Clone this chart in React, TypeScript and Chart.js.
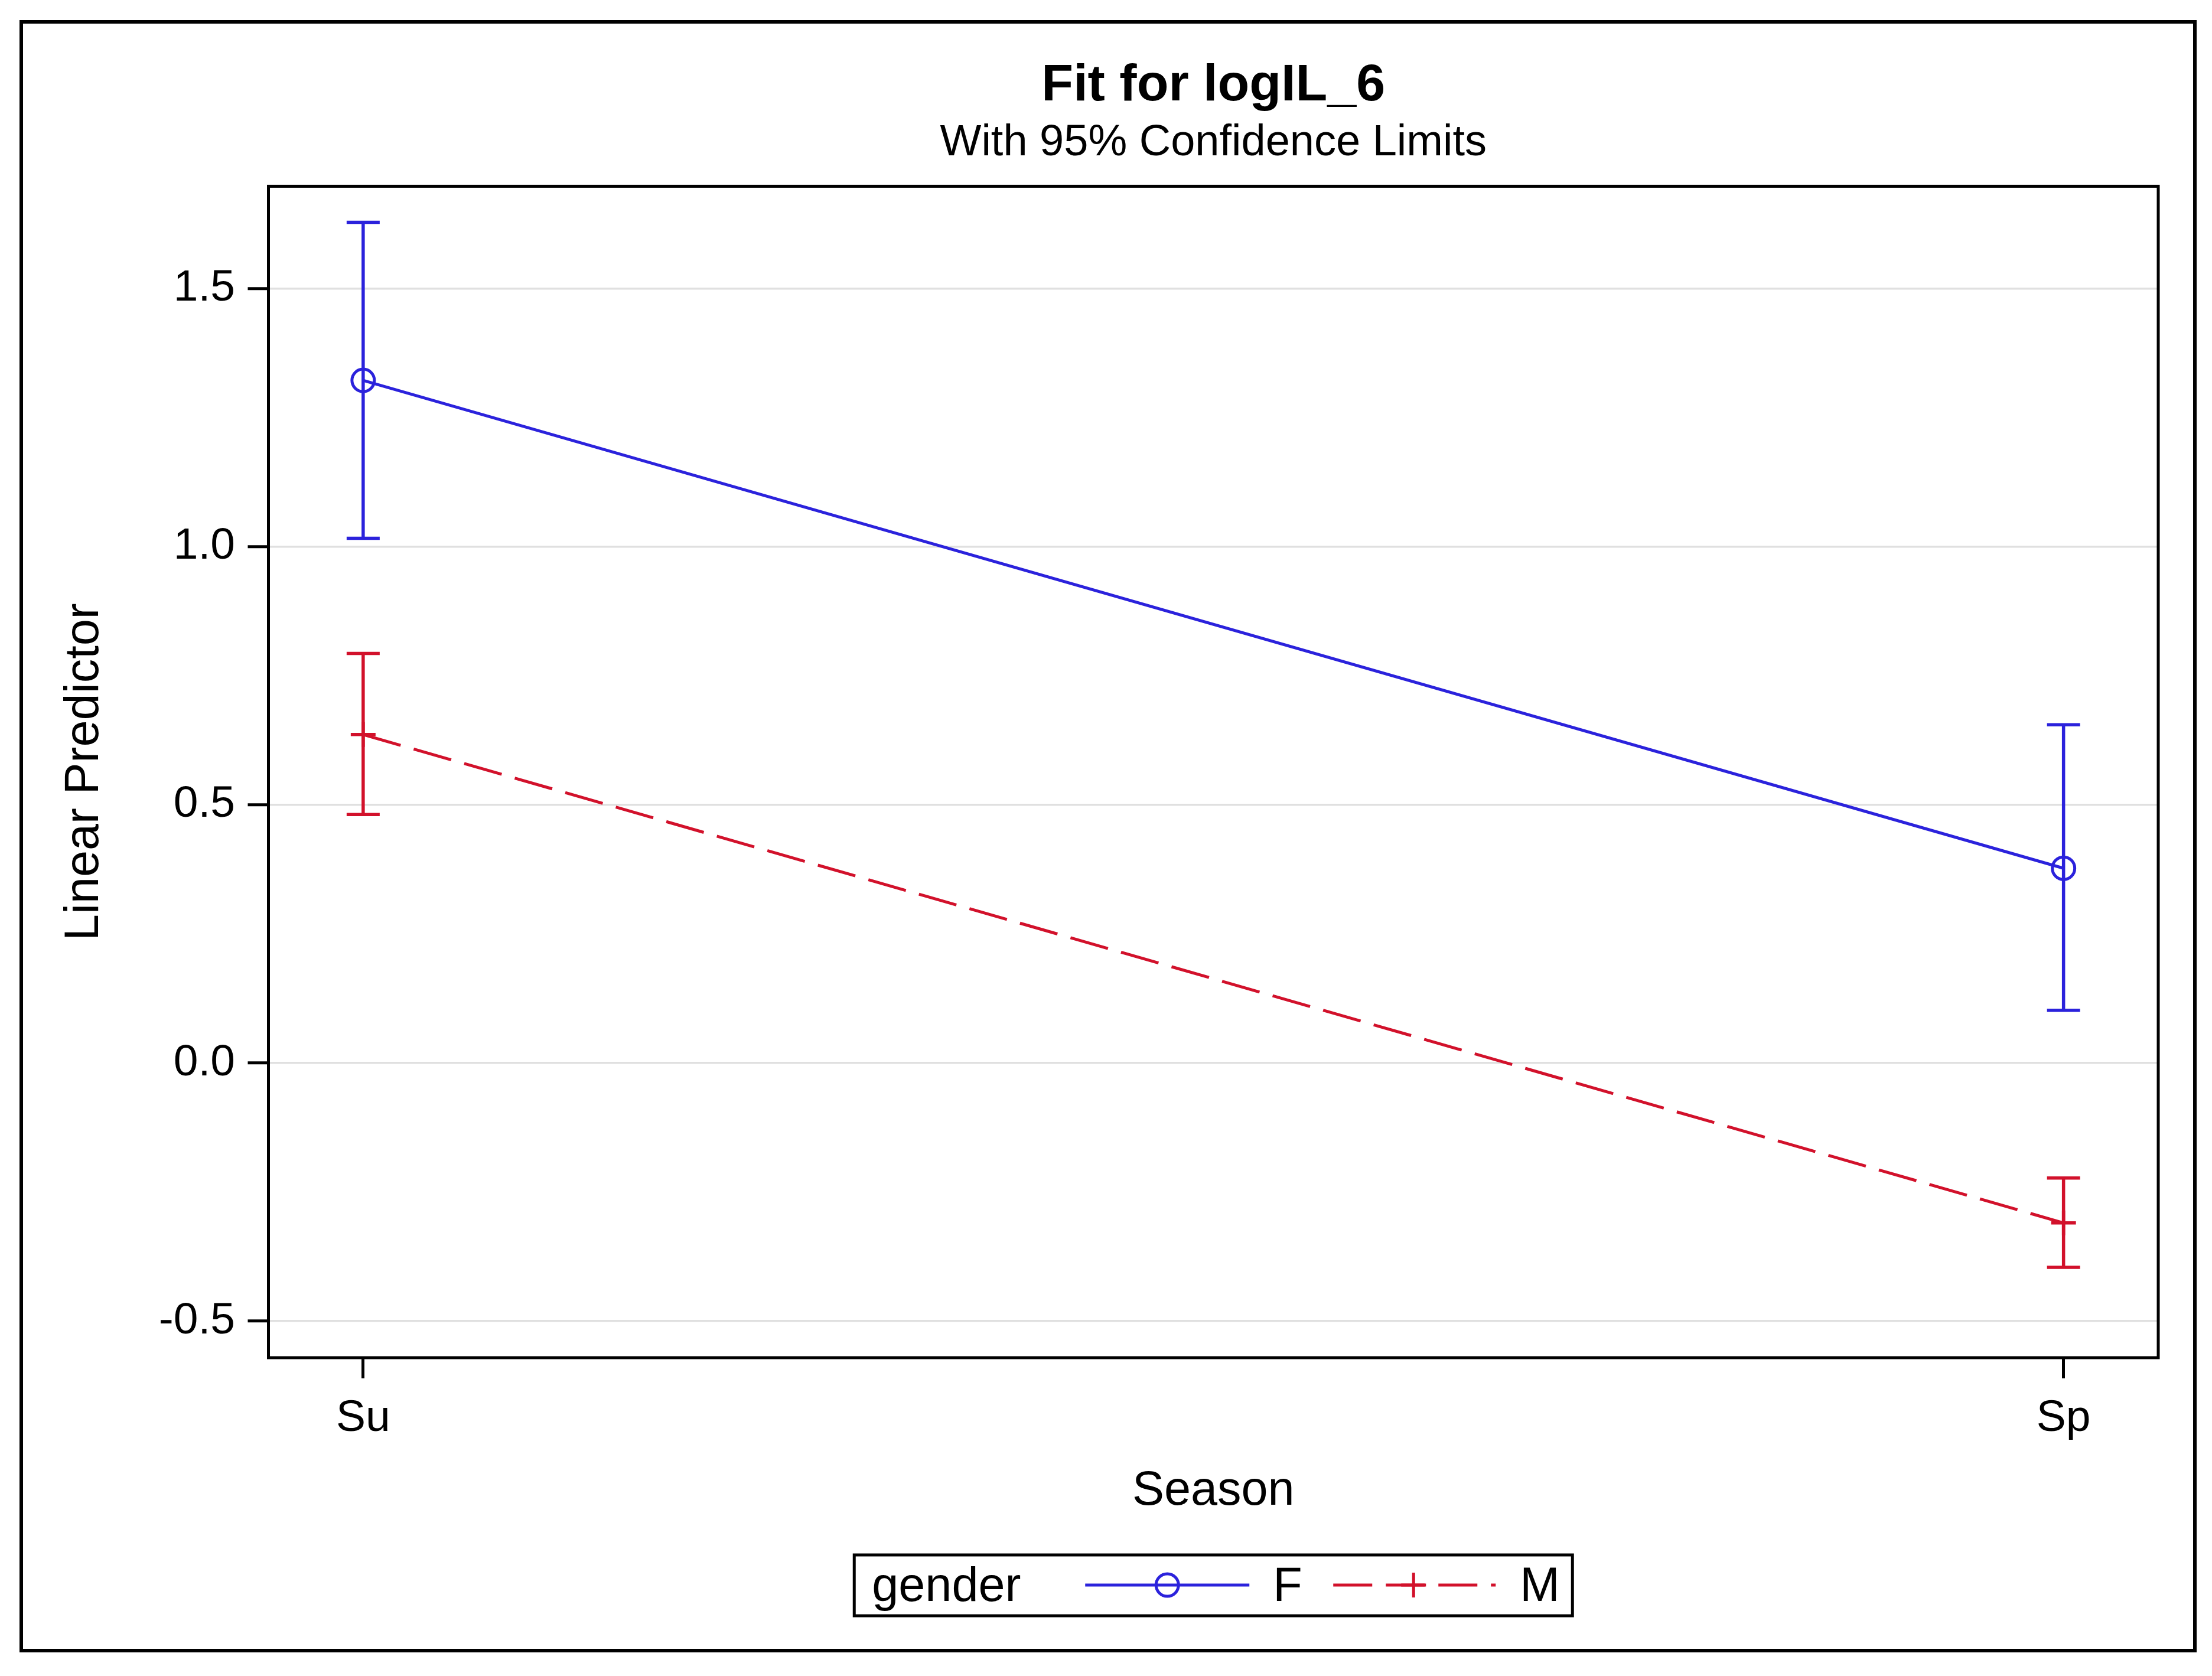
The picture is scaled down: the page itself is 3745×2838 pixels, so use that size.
import React, { useEffect, useRef } from 'react';
import { Chart, registerables } from 'chart.js';

Chart.register(...registerables);

// Season categories placed on a linear axis so the end offsets match the original
const seasons = ['Su', 'Sp'];
const seasonPos = [0, 1];
const yTicks = [-0.5, 0, 0.5, 1.0, 1.5];

// gender = F
const femaleFit = [1.322, 0.377];
const femaleLower = [1.016, 0.102];
const femaleUpper = [1.628, 0.655];

// gender = M
const maleFit = [0.636, -0.31];
const maleLower = [0.481, -0.396];
const maleUpper = [0.793, -0.223];

const BLUE = '#2B22DC';
const RED = '#D2112B';
const FONT = '"Liberation Sans", Arial, Helvetica, sans-serif';
const DASH = [66, 23];

const errorBars = {
  id: 'errorBars',
  afterDatasetsDraw(chart: any) {
    const { ctx, scales } = chart;
    const x = scales.x;
    const y = scales.y;
    const groups = [
      { lo: femaleLower, hi: femaleUpper, color: BLUE },
      { lo: maleLower, hi: maleUpper, color: RED },
    ];
    ctx.save();
    ctx.lineWidth = 5.5;
    ctx.lineCap = 'butt';
    groups.forEach((g) => {
      ctx.strokeStyle = g.color;
      seasonPos.forEach((v, i) => {
        const px = x.getPixelForValue(v);
        const top = y.getPixelForValue(g.hi[i]);
        const bot = y.getPixelForValue(g.lo[i]);
        ctx.beginPath();
        ctx.moveTo(px, top);
        ctx.lineTo(px, bot);
        ctx.moveTo(px - 28, top);
        ctx.lineTo(px + 28, top);
        ctx.moveTo(px - 28, bot);
        ctx.lineTo(px + 28, bot);
        ctx.stroke();
      });
    });
    ctx.restore();
  },
};

const frameAndLegend = {
  id: 'frameAndLegend',
  afterDraw(chart: any) {
    const { ctx, chartArea } = chart;
    ctx.save();
    ctx.strokeStyle = '#000';

    // outer graph border
    ctx.lineWidth = 6;
    ctx.strokeRect(36, 37, 3680, 2758);

    // wall border around the plot area
    ctx.lineWidth = 5;
    ctx.strokeRect(
      chartArea.left,
      chartArea.top,
      chartArea.right - chartArea.left,
      chartArea.bottom - chartArea.top
    );

    // legend
    const cx = (chartArea.left + chartArea.right) / 2;
    const left = cx - 608;
    const top = 2633;
    const lineY = 2684;
    const baseY = 2711;
    ctx.lineWidth = 5;
    ctx.strokeRect(left, top, 1216, 103);

    ctx.fillStyle = '#000';
    ctx.font = `81px ${FONT}`;
    ctx.textBaseline = 'alphabetic';
    ctx.textAlign = 'left';
    ctx.fillText('gender', left + 30, baseY);

    // F sample
    ctx.strokeStyle = BLUE;
    ctx.lineWidth = 5;
    ctx.beginPath();
    ctx.moveTo(left + 391, lineY);
    ctx.lineTo(left + 669, lineY);
    ctx.stroke();
    ctx.beginPath();
    ctx.arc(left + 530, lineY, 19, 0, Math.PI * 2);
    ctx.stroke();
    ctx.fillText('F', left + 709, baseY);

    // M sample
    ctx.strokeStyle = RED;
    ctx.setLineDash(DASH);
    ctx.beginPath();
    ctx.moveTo(left + 811, lineY);
    ctx.lineTo(left + 1086, lineY);
    ctx.stroke();
    ctx.setLineDash([]);
    ctx.lineWidth = 5;
    ctx.beginPath();
    ctx.moveTo(left + 947 - 21, lineY);
    ctx.lineTo(left + 947 + 21, lineY);
    ctx.moveTo(left + 947, lineY - 21);
    ctx.lineTo(left + 947, lineY + 21);
    ctx.stroke();
    ctx.fillText('M', left + 1127, baseY);

    ctx.restore();
  },
};

const App: React.FC = () => {
  const canvasRef = useRef<HTMLCanvasElement>(null);
  const chartRef = useRef<Chart | null>(null);

  useEffect(() => {
    document.body.style.margin = '0';
    document.body.style.overflow = 'hidden';
    if (!canvasRef.current) return;
    if (chartRef.current) chartRef.current.destroy();

    Chart.defaults.font.family = FONT;
    Chart.defaults.color = '#000';

    chartRef.current = new Chart(canvasRef.current, {
      type: 'line',
      data: {
        datasets: [
          {
            label: 'F',
            data: seasonPos.map((x, i) => ({ x, y: femaleFit[i] })),
            borderColor: BLUE,
            backgroundColor: 'rgba(0,0,0,0)',
            borderWidth: 5,
            pointStyle: 'circle',
            pointRadius: 19,
            pointBorderWidth: 5,
            pointBorderColor: BLUE,
            pointBackgroundColor: 'rgba(0,0,0,0)',
            tension: 0,
          },
          {
            label: 'M',
            data: seasonPos.map((x, i) => ({ x, y: maleFit[i] })),
            borderColor: RED,
            backgroundColor: 'rgba(0,0,0,0)',
            borderWidth: 5,
            borderDash: DASH,
            pointStyle: 'cross',
            pointRadius: 21,
            pointBorderWidth: 5.5,
            pointBorderColor: RED,
            tension: 0,
          },
        ],
      },
      options: {
        responsive: false,
        devicePixelRatio: 1,
        animation: false,
        events: [],
        layout: {
          padding: { left: 0, right: 91, top: 0, bottom: 0 },
        },
        scales: {
          x: {
            type: 'linear',
            min: -0.0557,
            max: 1.0557,
            afterBuildTicks: (scale: any) => {
              scale.ticks = seasonPos.map((v) => ({ value: v }));
            },
            afterFit: (scale: any) => {
              scale.height = 539;
            },
            ticks: {
              font: { size: 75 },
              padding: 23,
              maxRotation: 0,
              callback: (_value: any, index: number) => seasons[index],
            },
            grid: {
              drawOnChartArea: false,
              drawTicks: true,
              tickLength: 35,
              tickColor: '#000',
              tickWidth: 5,
            },
            border: { display: false },
            title: {
              display: true,
              text: 'Season',
              font: { size: 81 },
              padding: { top: 0, bottom: 264 },
            },
          },
          y: {
            type: 'linear',
            min: -0.571,
            max: 1.698,
            afterBuildTicks: (scale: any) => {
              scale.ticks = yTicks.map((v) => ({ value: v }));
            },
            afterFit: (scale: any) => {
              scale.width = 454.5;
            },
            ticks: {
              font: { size: 75 },
              padding: 21.5,
              callback: (value: any) => Number(value).toFixed(1),
            },
            grid: {
              color: '#E0E0E0',
              lineWidth: 3.5,
              drawTicks: true,
              tickLength: 35,
              tickColor: '#000',
              tickWidth: 5,
            },
            border: { display: false },
            title: {
              display: true,
              text: 'Linear Predictor',
              font: { size: 81 },
              padding: { top: 95, bottom: 0 },
            },
          },
        },
        plugins: {
          legend: { display: false },
          tooltip: { enabled: false },
          title: {
            display: true,
            text: 'Fit for logIL_6',
            fullSize: false,
            font: { size: 88, weight: 'bold' },
            padding: { top: 93, bottom: 0 },
          },
          subtitle: {
            display: true,
            text: 'With 95% Confidence Limits',
            fullSize: false,
            font: { size: 74, weight: 'normal' },
            padding: { top: 0, bottom: 28 },
          },
        },
      },
      plugins: [errorBars, frameAndLegend],
    });

    return () => {
      if (chartRef.current) {
        chartRef.current.destroy();
        chartRef.current = null;
      }
    };
  }, []);

  return (
    <div style={{ width: '3745px', height: '2838px', background: '#fff' }}>
      <canvas ref={canvasRef} width={3745} height={2838}></canvas>
    </div>
  );
};

export default App;
